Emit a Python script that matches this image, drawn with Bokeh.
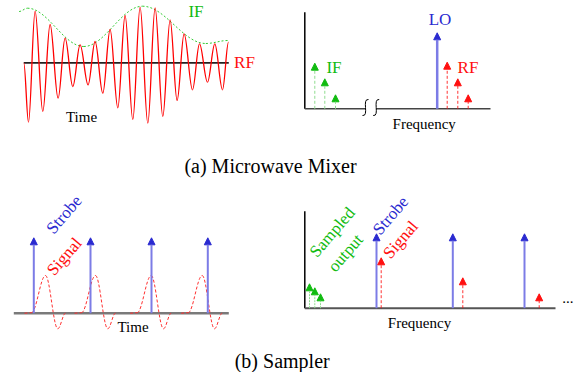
import numpy as np
from bokeh.plotting import figure
from bokeh.models import Range1d, ColumnDataSource, Arrow, NormalHead
from bokeh.embed import file_html
from bokeh.resources import INLINE
from bokeh.core.properties import value

W, H = 584, 372
FONT = value("Liberation Serif")

# ---------------- data ----------------
# (a) Microwave mixer, time domain: RF carrier extrema (time, amplitude) and IF envelope
rf_t = [0, 4.7, 11.3, 19, 26.3, 34.3, 41.3, 49, 56.3, 64.3, 71.3, 79, 86.3, 94,
        101.3, 109, 116.3, 124, 131.3, 139, 146.3, 153.3, 160.3, 168.7, 175.7,
        183.7, 191, 198.7, 204.7]
rf_v = [0, -59.4, 51.6, -48.7, 38.3, -35.4, 24.6, -23.7, 18, -22, 21.3, -30.4,
        33.3, -45, 47.3, -56.7, 55.6, -60.4, 55, -53.7, 43, -37.7, 29, -27, 19,
        -19.4, 19, -27, 20.6]
env_t = [-4.7, 3.7, 60, 118.7, 182, 204]
env_v = [51.3, 54.6, 16.3, 56.6, 19.3, 22.3]
time_len_a = 205

# (a) Microwave mixer, spectrum
if_f = [10, 20, 30.7]
if_p = [45.6, 30, 14]
lo_f = [132.4]
lo_p = [76]
rf_f = [142.4, 153, 163.4]
rf_p = [46.6, 30, 14]
break_f = [60.7, 71.4]
freq_len_a = 185.7
power_len_a = 96.6

# (b) Sampler, time domain
strobe_t = [20, 76.7, 137.7, 194]
strobe_v = [75.4, 75.4, 75.4, 75.4]
pulse_peak_t = [31.7, 81.7, 137.4, 188.4]
pulse_dt = [-21, -14, 0, 12.3, 20]
pulse_v = [0, 0.5, 37.7, -15.6, 0]
time_len_b = 215

# (b) Sampler, spectrum
samp_f = [4.7, 10, 15.7]
samp_p = [24.4, 20.4, 14.4]
strobe_f = [71.7, 148, 219.7]
strobe_p = [74.4, 74.4, 74.4]
sig_f = [76.4, 158, 234.4]
sig_p = [50.4, 30.4, 14.4]
freq_len_b = 250.7
power_len_b = 97

# ---------------- layout ----------------
GREEN, GREEN_L = "#11bb11", "#8fdc8f"
RED = "#ff1010"
BLUE, BLUE_L = "#2a2ad0", "#7c7ce6"

p = figure(width=W, height=H, output_backend="svg", toolbar_location=None,
           x_range=Range1d(0, W), y_range=Range1d(0, H),
           x_axis_location=None, y_axis_location=None,
           min_border=0, min_border_left=0, min_border_right=0,
           min_border_top=0, min_border_bottom=0)
p.grid.visible = False
p.outline_line_color = None
p.background_fill_color = "white"


def ry(row):
    return H - row


def panel(name, ox, oy):
    p.extra_x_ranges[name] = Range1d(-ox, W - ox)
    p.extra_y_ranges[name] = Range1d(-(H - oy), oy)


panel("a_t", 23.3, 62.3)
panel("a_f", 304.3, 108.3)
panel("b_t", 13.3, 312.7)
panel("b_f", 304.3, 307.7)


def kw(name):
    return dict(x_range_name=name, y_range_name=name)


def smooth(name, t, v, color, width, dash="solid", alpha=1.0):
    t = np.asarray(t, float)
    v = np.asarray(v, float)
    dt = np.diff(t)
    p.bezier(x0=t[:-1], y0=v[:-1], x1=t[1:], y1=v[1:],
             cx0=t[:-1] + 0.36 * dt, cy0=v[:-1],
             cx1=t[1:] - 0.36 * dt, cy1=v[1:],
             line_color=color, line_width=width, line_dash=dash,
             line_alpha=alpha, **kw(name))


def arrows(name, xs, ys, color, head_color, width, dash="solid", alpha=1.0, size=7):
    src = ColumnDataSource(dict(x0=list(xs), y0=[0] * len(xs), x1=list(xs), y1=list(ys)))
    head = NormalHead(size=size, fill_color=head_color, line_color=head_color,
                      line_width=1)
    p.add_layout(Arrow(end=head, x_start="x0", y_start="y0", x_end="x1", y_end="y1",
                       source=src, line_color=color, line_width=width,
                       line_dash=dash, line_alpha=alpha, **kw(name)))


def label(x, row, txt, color="black", size="17px", angle=0.0, align="center"):
    p.text(x=[x], y=[ry(row)], text=[txt], text_font=FONT, text_font_size=size,
           text_color=color, text_align=align, text_baseline="middle", angle=angle)


# ---- (a) time domain ----
p.segment(x0=[0], y0=[0], x1=[time_len_a], y1=[0], line_color="#222222",
          line_width=1.8, **kw("a_t"))
smooth("a_t", env_t, env_v, "#33cc33", 1, dash="2 2")
smooth("a_t", rf_t, rf_v, "#ff0000", 1.3)
label(195.5, 11, "IF", GREEN)
label(244, 62, "RF", RED)
label(81, 116, "Time", "black", "15px")

# ---- (a) spectrum ----
p.segment(x0=[0], y0=[0], x1=[0], y1=[power_len_a], line_color="black",
          line_width=1.5, **kw("a_f"))
p.segment(x0=[0, break_f[1]], y0=[0, 0], x1=[break_f[0], freq_len_a], y1=[0, 0],
          line_color="#444444", line_width=1.5, **kw("a_f"))
bf = np.asarray(break_f)
p.bezier(x0=bf + 3, y0=[9.3, 9.3], x1=bf - 3, y1=[-6.7, -6.7],
         cx0=bf - 4, cy0=[10.5, 10.5], cx1=bf + 4, cy1=[-8, -8],
         line_color="black", line_width=1, **kw("a_f"))
arrows("a_f", if_f, if_p, GREEN_L, GREEN, 1, dash="3 2")
arrows("a_f", lo_f, lo_p, BLUE_L, BLUE, 2.5)
arrows("a_f", rf_f, rf_p, RED, RED, 1, dash="3 2", alpha=0.85)
label(439.5, 19, "LO", BLUE)
label(333.5, 67, "IF", GREEN)
label(467.5, 67, "RF", RED)
label(423.7, 123, "Frequency", "black", "15px")

label(270, 165, "(a) Microwave Mixer", "black", "20px")

# ---- (b) time domain ----
p.segment(x0=[0], y0=[0], x1=[time_len_b], y1=[0], line_color="#7a7a7a",
          line_width=2.5, **kw("b_t"))
for pk in pulse_peak_t:
    smooth("b_t", [pk + d for d in pulse_dt], pulse_v, "#ff3030", 1, dash="3 2")
arrows("b_t", strobe_t, strobe_v, BLUE_L, BLUE, 2)
label(63.5, 214, "Strobe", BLUE, angle=0.86)
label(63.8, 256, "Signal", RED, angle=0.86)
label(132.5, 326, "Time", "black", "15px")

# ---- (b) spectrum ----
p.segment(x0=[0], y0=[0], x1=[0], y1=[power_len_b], line_color="black",
          line_width=1.5, **kw("b_f"))
p.segment(x0=[0], y0=[0], x1=[freq_len_b], y1=[0], line_color="#555555",
          line_width=2, **kw("b_f"))
arrows("b_f", samp_f, samp_p, GREEN_L, GREEN, 1, dash="2 1")
arrows("b_f", strobe_f, strobe_p, BLUE_L, BLUE, 2)
arrows("b_f", sig_f, sig_p, RED, RED, 1, dash="3 2", alpha=0.85)
label(331.7, 231.7, "Sampled", GREEN, angle=0.86)
label(345, 252.5, "output", GREEN, angle=0.86)
label(390, 215, "Strobe", BLUE, angle=0.86)
label(400, 239.2, "Signal", RED, angle=0.86)
label(567.4, 297, "...", "black", "15px")
label(419, 322, "Frequency", "black", "15px")

label(281.7, 360, "(b) Sampler", "black", "20px")

open("out.html", "w").write(file_html(p, INLINE))
